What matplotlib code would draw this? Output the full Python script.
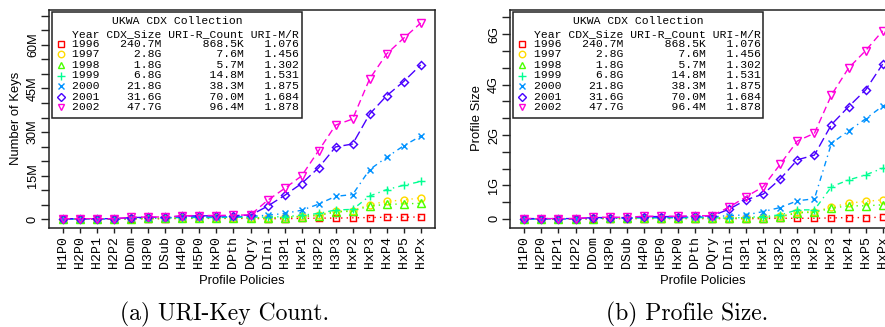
import matplotlib
matplotlib.use("Agg")
import matplotlib.pyplot as plt
from matplotlib.lines import Line2D
from matplotlib.patches import Rectangle
import numpy as np

# Profile policies on the x axis
policies = ['H1P0', 'H2P0', 'H2P1', 'H2P2', 'DDom', 'H3P0', 'DSub', 'H4P0',
            'H5P0', 'HxP0', 'DPth', 'DQry', 'DIni', 'H3P1', 'HxP1', 'H3P2',
            'H3P3', 'HxP2', 'HxP3', 'HxP4', 'HxP5', 'HxPx']

# legend table
years = ['1996', '1997', '1998', '1999', '2000', '2001', '2002']
cdx_size = ['240.7M', '2.8G', '1.8G', '6.8G', '21.8G', '31.6G', '47.7G']
uri_r_count = ['868.5K', '7.6M', '5.7M', '14.8M', '38.3M', '70.0M', '96.4M']
uri_m_r = ['1.076', '1.456', '1.302', '1.531', '1.875', '1.684', '1.878']

# (a) number of keys, in millions
keys_1996 = [0.1, 0.1, 0.1, 0.1, 0.2, 0.2, 0.2, 0.3, 0.3, 0.3, 0.3, 0.3,
             0.2, 0.2, 0.3, 0.4, 0.4, 0.5, 0.6, 0.7, 0.7, 0.8]
keys_1997 = [0.1, 0.1, 0.1, 0.1, 0.3, 0.3, 0.4, 0.5, 0.5, 0.5, 0.6, 0.6,
             0.5, 0.7, 1.1, 1.6, 2.7, 3.0, 5.0, 6.2, 6.6, 7.4]
keys_1998 = [0.1, 0.1, 0.1, 0.1, 0.2, 0.3, 0.3, 0.4, 0.4, 0.4, 0.5, 0.5,
             0.4, 0.6, 0.9, 1.3, 2.5, 2.8, 4.6, 5.1, 5.3, 5.5]
keys_1999 = [0.1, 0.1, 0.1, 0.1, 0.3, 0.3, 0.4, 0.6, 0.6, 0.6, 0.7, 0.7,
             0.8, 0.9, 1.4, 2.0, 3.2, 3.4, 8.0, 10.2, 11.7, 13.0]
keys_2000 = [0.1, 0.1, 0.1, 0.1, 0.4, 0.5, 0.5, 0.8, 0.8, 0.8, 0.9, 1.0,
             1.4, 2.0, 3.1, 5.2, 7.9, 8.5, 17.1, 21.3, 25.3, 28.6]
keys_2001 = [0.2, 0.2, 0.2, 0.2, 0.6, 0.7, 0.7, 1.1, 1.2, 1.2, 1.3, 1.4,
             4.5, 8.2, 12.3, 17.7, 24.9, 25.9, 36.2, 42.5, 47.4, 53.1]
keys_2002 = [0.2, 0.2, 0.2, 0.2, 0.7, 0.8, 0.8, 1.2, 1.3, 1.3, 1.4, 1.5,
             6.5, 10.6, 14.9, 23.6, 32.4, 34.5, 48.3, 56.9, 62.3, 67.5]

# (b) profile size, in the chart's axis units
size_1996 = [0.0, 0.0, 0.0, 0.0, 0.01, 0.01, 0.01, 0.01, 0.01, 0.01, 0.01, 0.01,
             0.01, 0.01, 0.01, 0.02, 0.02, 0.02, 0.03, 0.04, 0.04, 0.05]
size_1997 = [0.0, 0.0, 0.0, 0.0, 0.02, 0.02, 0.02, 0.03, 0.03, 0.03, 0.03, 0.03,
             0.02, 0.03, 0.05, 0.08, 0.2, 0.22, 0.35, 0.47, 0.52, 0.57]
size_1998 = [0.0, 0.0, 0.0, 0.0, 0.01, 0.02, 0.02, 0.02, 0.02, 0.02, 0.03, 0.03,
             0.02, 0.03, 0.04, 0.06, 0.18, 0.2, 0.32, 0.39, 0.39, 0.42]
size_1999 = [0.0, 0.0, 0.0, 0.0, 0.02, 0.02, 0.02, 0.03, 0.03, 0.03, 0.04, 0.04,
             0.02, 0.05, 0.07, 0.12, 0.27, 0.27, 0.96, 1.16, 1.31, 1.51]
size_2000 = [0.0, 0.0, 0.0, 0.0, 0.03, 0.03, 0.03, 0.05, 0.05, 0.05, 0.06, 0.06,
             0.1, 0.12, 0.22, 0.34, 0.54, 0.6, 2.25, 2.62, 2.98, 3.36]
size_2001 = [0.01, 0.01, 0.01, 0.01, 0.04, 0.04, 0.04, 0.07, 0.07, 0.07, 0.08, 0.09,
             0.29, 0.57, 0.74, 1.19, 1.76, 1.9, 2.81, 3.34, 3.84, 4.61]
size_2002 = [0.01, 0.01, 0.01, 0.01, 0.05, 0.05, 0.05, 0.08, 0.08, 0.08, 0.09, 0.1,
             0.35, 0.66, 0.96, 1.63, 2.32, 2.55, 3.69, 4.49, 5.01, 5.6]

keys = [keys_1996, keys_1997, keys_1998, keys_1999, keys_2000, keys_2001, keys_2002]
sizes = [size_1996, size_1997, size_1998, size_1999, size_2000, size_2001, size_2002]

# R rainbow(7), pch 0..6, lty dotted/dotdash/dashes
colors = ['#FF0000', '#FFDB00', '#49FF00', '#00FF92', '#0092FF', '#4900FF', '#FF00DB']
markers = ['s', 'o', '^', '+', 'x', 'D', 'v']
msizes = [4.6, 4.9, 5.1, 5.8, 4.8, 4.1, 5.2]
dashes = [(1, 3), (1, 3), (1, 3), (1, 3, 4, 3), (1, 3, 4, 3), (7, 3), (5, 3)]

W, H = 885, 327
fig = plt.figure(figsize=(W / 100, H / 100), dpi=100)


def fx(x):
    return x / W


def fy(y):
    return 1 - y / H


def px_axes(x0, y0, x1, y1):
    return fig.add_axes([fx(x0), fy(y1), (x1 - x0) / W, (y1 - y0) / H])


mono = 'Liberation Mono'
sans = 'Liberation Sans'
spine_c = '#222222'


def setup(ax, ylim, yticks, ylabels):
    ax.set_xlim(-0.84, 21.84)
    ax.set_ylim(*ylim)
    ax.set_xticks(range(len(policies)))
    ax.set_xticklabels(policies, rotation=90, fontfamily=mono, fontsize=9.5)
    ax.set_yticks(yticks)
    ax.set_yticklabels(ylabels, fontfamily=sans, fontsize=9.2)
    for t in ax.get_yticklabels():
        t.set_rotation(90)
        t.set_va('center')
        t.set_ha('right')
    ax.tick_params(axis='x', length=3.6, width=1.0, pad=2.5, color=spine_c)
    ax.tick_params(axis='y', length=5.8, width=1.0, pad=1.4, color=spine_c)
    for s in ax.spines.values():
        s.set_linewidth(1.1)
        s.set_color(spine_c)


def draw_series(ax, data):
    x = np.arange(len(policies))
    for vals, c, m, ms, d in zip(data, colors, markers, msizes, dashes):
        ax.plot(x, vals, color=c, lw=1.0, dashes=d, marker=m, ms=ms,
                mfc='none', mec=c, mew=1.05)


def table_legend(left, top=12):
    right = left + 250
    bottom = 118
    fig.add_artist(Rectangle((fx(left), fy(bottom)), (right - left) / W,
                             (bottom - top) / H, transform=fig.transFigure,
                             facecolor='white', edgecolor=spine_c, lw=1.1))
    fig.text(fx((left + right) / 2), fy(21), 'UKWA CDX Collection',
             ha='center', va='center', fontfamily=mono, fontsize=8.2)
    header = f"{'Year':<4} {'CDX_Size':>8} {'URI-R_Count':>11} {'URI-M/R':>7}"
    fig.text(fx(left + 20.5), fy(34), header, ha='left', va='center',
             fontfamily=mono, fontsize=8.2)
    row_y = [43.7, 54.2, 64.9, 75.5, 86.1, 96.7, 107.3]
    for i, yr in enumerate(years):
        line = f"{yr} {cdx_size[i]:>8} {uri_r_count[i]:>11} {uri_m_r[i]:>7}"
        fig.text(fx(left + 20.5), fy(row_y[i]), line, ha='left', va='center',
                 fontfamily=mono, fontsize=8.2)
        fig.add_artist(Line2D([fx(left + 9)], [fy(row_y[i])], transform=fig.transFigure,
                              marker=markers[i], ms=msizes[i] * 0.95, mfc='none',
                              mec=colors[i], mew=1.0, lw=0))


# (a) URI-Key Count
ax1 = px_axes(49, 10, 435, 228)
setup(ax1, (-3.0, 72.0), np.arange(0, 70.1, 5),
      ['0', '', '', '15M', '', '', '30M', '', '', '45M', '', '', '60M', '', ''])
draw_series(ax1, keys)

# (b) Profile Size
ax2 = px_axes(510, 10, 897, 228)
setup(ax2, (-0.27, 6.22), np.arange(0, 6.01, 0.5),
      ['0', '', '1G', '', '', '2G', '', '', '4G', '', '', '6G', ''])
draw_series(ax2, sizes)

table_legend(52)
table_legend(513)

fig.text(fx(16.5), fy(118.5), 'Number of Keys', rotation=90, ha='center',
         va='center', fontfamily=sans, fontsize=9.4)
fig.text(fx(477.5), fy(118.5), 'Profile Size', rotation=90, ha='center',
         va='center', fontfamily=sans, fontsize=9.4)
fig.text(fx(242), fy(281), 'Profile Policies', ha='center', va='center',
         fontfamily=sans, fontsize=9.4)
fig.text(fx(702.5), fy(281), 'Profile Policies', ha='center', va='center',
         fontfamily=sans, fontsize=9.4)

fig.text(fx(225), fy(314), '(a) URI-Key Count.', ha='center', va='center',
         fontfamily='cmr10', fontsize=17)
fig.text(fx(687), fy(314), '(b) Profile Size.', ha='center', va='center',
         fontfamily='cmr10', fontsize=17)

fig.savefig('out.png', dpi=100)
